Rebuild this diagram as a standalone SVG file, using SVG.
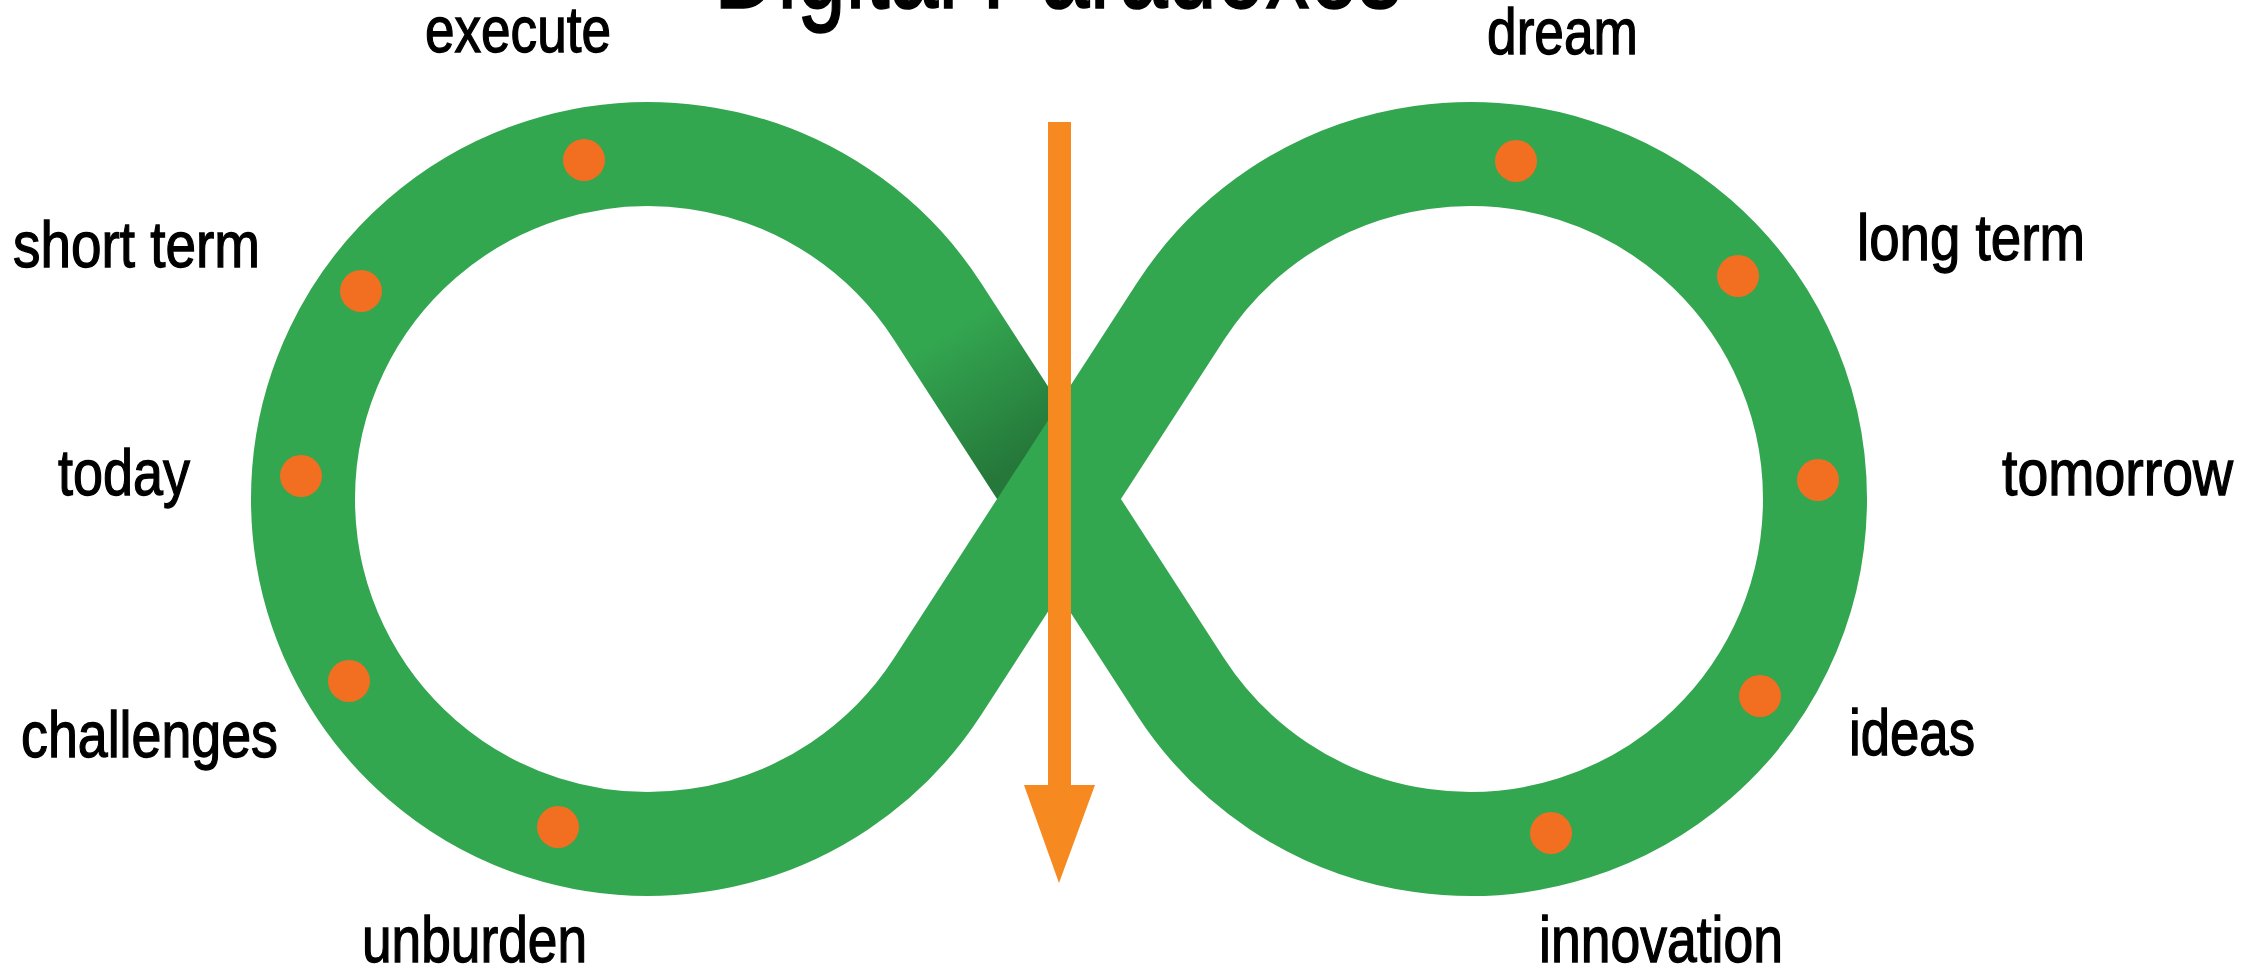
<svg xmlns="http://www.w3.org/2000/svg" width="2254" height="980" viewBox="0 0 2254 980">
  <style>
    .lbl { font-family: "Liberation Sans", Arial, sans-serif; font-size: 64px; fill: #000; stroke: #000; stroke-width: 1.3px; }
    .title { font-family: "Liberation Sans", Arial, sans-serif; font-size: 118px; fill: #000; stroke: #000; stroke-width: 1.5px; }
    .dot { fill: #F26F21; }
  </style>
  <defs>
    <linearGradient id="shade" gradientUnits="userSpaceOnUse" x1="950" y1="331" x2="1030" y2="455">
      <stop offset="0" stop-color="#000" stop-opacity="0"/>
      <stop offset="1" stop-color="#000" stop-opacity="0.28"/>
    </linearGradient>
  </defs>
  <rect width="2254" height="980" fill="#fff"/>

  <text class="title" x="714" y="8" textLength="688" lengthAdjust="spacingAndGlyphs">Digital Paradoxes</text>

  <g id="infinity">
    <path d="M 937.6 311.5 A 345 345 0 1 0 937.6 686.5 L 1180.4 311.5 A 345 345 0 1 1 1180.4 686.5 Z" fill="none" stroke="#33A650" stroke-width="104" stroke-linejoin="miter"/>
    <polygon points="906.8,359.3 994.0,302.9 1059,403.4 997.2,499" fill="url(#shade)"/>
  </g>

  <g id="connectors">
    <rect x="1048" y="122" width="23" height="665" fill="#F6891F"/>
    <polygon points="1024,785 1095,785 1059,883" fill="#F6891F"/>
  </g>

  <g id="dots">
    <circle class="dot" cx="584" cy="160" r="21"/>
    <circle class="dot" cx="361" cy="291" r="21"/>
    <circle class="dot" cx="301" cy="476" r="21"/>
    <circle class="dot" cx="349" cy="681" r="21"/>
    <circle class="dot" cx="558" cy="827" r="21"/>
    <circle class="dot" cx="1516" cy="161" r="21"/>
    <circle class="dot" cx="1738" cy="276" r="21"/>
    <circle class="dot" cx="1818" cy="480" r="21"/>
    <circle class="dot" cx="1760" cy="696" r="21"/>
    <circle class="dot" cx="1551" cy="833" r="21"/>
  </g>

  <g id="label-execute"><text class="lbl" x="425" y="52" textLength="186" lengthAdjust="spacingAndGlyphs">execute</text></g>
  <g id="label-dream"><text class="lbl" x="1487" y="54" textLength="151" lengthAdjust="spacingAndGlyphs">dream</text></g>
  <g id="label-shortterm"><text class="lbl" x="13" y="267" textLength="247" lengthAdjust="spacingAndGlyphs">short term</text></g>
  <g id="label-longterm"><text class="lbl" x="1857" y="260" textLength="228" lengthAdjust="spacingAndGlyphs">long term</text></g>
  <g id="label-today"><text class="lbl" x="58" y="495" textLength="132" lengthAdjust="spacingAndGlyphs">today</text></g>
  <g id="label-tomorrow"><text class="lbl" x="2002" y="495" textLength="231" lengthAdjust="spacingAndGlyphs">tomorrow</text></g>
  <g id="label-challenges"><text class="lbl" x="21" y="757" textLength="257" lengthAdjust="spacingAndGlyphs">challenges</text></g>
  <g id="label-ideas"><text class="lbl" x="1849" y="755" textLength="126" lengthAdjust="spacingAndGlyphs">ideas</text></g>
  <g id="label-unburden"><text class="lbl" x="362" y="962" textLength="225" lengthAdjust="spacingAndGlyphs">unburden</text></g>
  <g id="label-innovation"><text class="lbl" x="1539" y="962" textLength="244" lengthAdjust="spacingAndGlyphs">innovation</text></g>
</svg>
